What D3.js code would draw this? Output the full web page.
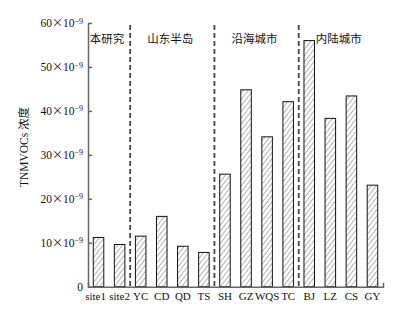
<!DOCTYPE html>
<html>
<head>
<meta charset="utf-8">
<script src="https://cdn.jsdelivr.net/npm/d3@7"></script>
<style>
  body { margin: 0; background: #fff; }
</style>
</head>
<body>
<div id="chart"></div>
<script>
// Data
const sites = ["site1", "site2", "YC", "CD", "QD", "TS", "SH", "GZ", "WQS", "TC", "BJ", "LZ", "CS", "GY"];
const values = [11.2, 9.6, 11.5, 16.0, 9.2, 7.8, 25.6, 44.8, 34.1, 42.1, 56.0, 38.3, 43.4, 23.1];
const groupNames = ["本研究", "山东半岛", "沿海城市", "内陆城市"];
const groupFirst = ["site1", "YC", "SH", "BJ"];
const groupLast = ["site2", "TS", "TC", "GY"];
const yTicks = [0, 10, 20, 30, 40, 50, 60];

const W = 393, H = 309;
const plotLeft = 88, plotRight = 383, plotTop = 23, plotBottom = 286.7;
const serif = "'Liberation Serif', 'Times New Roman', Times, serif";
const cjk = "'Liberation Serif', 'Noto Sans CJK SC', serif";

const svg = d3.select("#chart")
    .append("svg")
    .attr("width", W)
    .attr("height", H);

// hatch pattern
svg.append("defs").append("pattern")
    .attr("id", "hatch")
    .attr("patternUnits", "userSpaceOnUse")
    .attr("width", 3.8)
    .attr("height", 3.8)
    .attr("patternTransform", "rotate(38)")
    .append("line")
    .attr("x1", 0).attr("y1", 0)
    .attr("x2", 0).attr("y2", 3.8)
    .attr("stroke", "#444")
    .attr("stroke-width", 0.8);

const x = d3.scaleBand()
    .domain(sites)
    .range([plotLeft, plotRight])
    .paddingInner(0.5)
    .paddingOuter(0.25);

const y = d3.scaleLinear()
    .domain([0, 60])
    .range([plotBottom, plotTop]);

// bars
svg.selectAll(".bar")
    .data(sites)
    .enter()
    .append("rect")
    .attr("class", "bar")
    .attr("x", d => x(d))
    .attr("y", (d, i) => y(values[i]))
    .attr("width", x.bandwidth())
    .attr("height", (d, i) => y(0) - y(values[i]))
    .attr("fill", "url(#hatch)")
    .attr("stroke", "#111")
    .attr("stroke-width", 1);

// dashed separators between groups
const gap = x.step() * x.paddingInner() / 2;
svg.selectAll(".sep")
    .data(groupFirst.slice(1))
    .enter()
    .append("line")
    .attr("class", "sep")
    .attr("x1", d => x(d) - gap)
    .attr("x2", d => x(d) - gap)
    .attr("y1", y(60) + 2)
    .attr("y2", y(0))
    .attr("stroke", "#444")
    .attr("stroke-width", 1.8)
    .attr("stroke-dasharray", "5,3");

// group labels
svg.selectAll(".grp")
    .data(groupNames)
    .enter()
    .append("text")
    .attr("class", "grp")
    .attr("x", (d, i) => {
        const a = x(groupFirst[i]) - gap;
        const b = x(groupLast[i]) + x.bandwidth() + gap;
        return (Math.max(a, plotLeft) + Math.min(b, plotRight)) / 2 - 2;
    })
    .attr("y", 43)
    .attr("text-anchor", "middle")
    .attr("fill", "#111")
    .style("font-family", cjk)
    .style("font-size", "11.5px")
    .text(d => d);

// y axis
const yAxis = svg.append("g")
    .attr("class", "y-axis")
    .attr("transform", `translate(${plotLeft},0)`)
    .call(d3.axisLeft(y).tickValues(yTicks).tickSizeInner(-4).tickSizeOuter(0).tickPadding(5));

yAxis.selectAll(".tick text")
    .attr("fill", "#111")
    .style("font-family", serif)
    .style("font-size", "11.5px")
    .each(function (d) {
        const t = d3.select(this);
        t.text(null);
        if (d === 0) { t.text("0"); return; }
        t.append("tspan").text(d);
        t.append("tspan").style("font-family", "'Noto Sans CJK SC'").style("font-size", "11px").text("×");
        t.append("tspan").text("10");
        t.append("tspan").attr("dy", "-0.45em").style("font-size", "8px").text("−9");
    });

// x axis
const xAxis = svg.append("g")
    .attr("class", "x-axis")
    .attr("transform", `translate(0,${plotBottom})`)
    .call(d3.axisBottom(x).tickSizeInner(0).tickSizeOuter(-4).tickPadding(6));

xAxis.selectAll(".tick text")
    .attr("fill", "#111")
    .attr("dx", d => d === "site1" ? -3 : 0)
    .style("font-family", serif)
    .style("font-size", "11px");

svg.selectAll(".y-axis path, .x-axis path, .y-axis line")
    .attr("stroke", "#666")
    .attr("stroke-width", 1.5);

// y axis title
svg.append("text")
    .attr("transform", "translate(28,147) rotate(-90)")
    .attr("text-anchor", "middle")
    .attr("fill", "#111")
    .style("font-family", cjk)
    .style("font-size", "11.5px")
    .text("TNMVOCs 浓度");
</script>
</body>
</html>
